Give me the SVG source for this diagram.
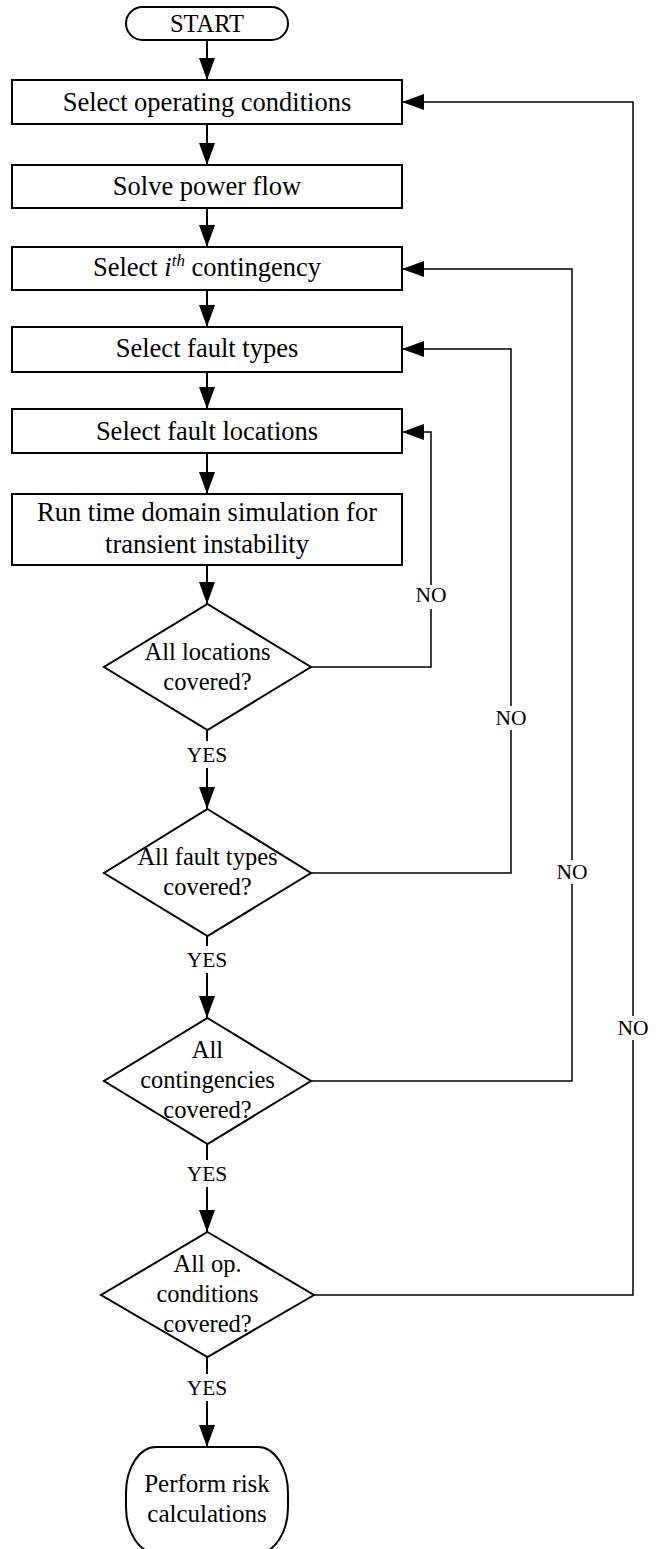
<svg xmlns="http://www.w3.org/2000/svg" width="662" height="1549" viewBox="0 0 662 1549">
<defs>
<marker id="ah" markerUnits="userSpaceOnUse" markerWidth="22" markerHeight="16" refX="22" refY="8" orient="auto">
<path d="M0,0 L22,8 L0,16 Z" fill="#000"/>
</marker>
<style>
.nd{fill:#fff;stroke:#000;stroke-width:2}
.t{font-family:"Liberation Serif","Times New Roman",serif;font-size:26.5px;fill:#000;text-anchor:middle}
.d{font-family:"Liberation Serif","Times New Roman",serif;font-size:24.5px;fill:#000;text-anchor:middle}
.l{font-family:"Liberation Serif","Times New Roman",serif;font-size:21.5px;fill:#000;text-anchor:middle}
.c{fill:none;stroke:#000;stroke-width:2}
.lp{fill:none;stroke:#000;stroke-width:1.5}
.bg{fill:#fff;stroke:none}
</style>
</defs>
<rect width="662" height="1549" fill="#fff"/>
<g id="connectors">
<line class="c" x1="207" y1="40" x2="207" y2="80" marker-end="url(#ah)"/>
<line class="c" x1="207" y1="124" x2="207" y2="165" marker-end="url(#ah)"/>
<line class="c" x1="207" y1="208" x2="207" y2="247" marker-end="url(#ah)"/>
<line class="c" x1="207" y1="290" x2="207" y2="327" marker-end="url(#ah)"/>
<line class="c" x1="207" y1="372" x2="207" y2="409" marker-end="url(#ah)"/>
<line class="c" x1="207" y1="453" x2="207" y2="494" marker-end="url(#ah)"/>
<line class="c" x1="207" y1="565" x2="207" y2="604" marker-end="url(#ah)"/>
<line class="c" x1="207" y1="730" x2="207" y2="809" marker-end="url(#ah)"/>
<line class="c" x1="207" y1="936" x2="207" y2="1018" marker-end="url(#ah)"/>
<line class="c" x1="207" y1="1144" x2="207" y2="1232" marker-end="url(#ah)"/>
<line class="c" x1="207" y1="1357" x2="207" y2="1447" marker-end="url(#ah)"/>
<polyline class="lp" points="311,667 431,667 431,432 402,432" marker-end="url(#ah)"/>
<polyline class="lp" points="311,873 511,873 511,349 402,349" marker-end="url(#ah)"/>
<polyline class="lp" points="311,1081 572,1081 572,269 402,269" marker-end="url(#ah)"/>
<polyline class="lp" points="314,1295 633,1295 633,102 402,102" marker-end="url(#ah)"/>
<rect class="bg" x="188" y="741" width="40" height="27"/>
<text class="l" x="207" y="762">YES</text>
<rect class="bg" x="188" y="946" width="40" height="27"/>
<text class="l" x="207" y="967">YES</text>
<rect class="bg" x="188" y="1160" width="40" height="27"/>
<text class="l" x="207" y="1181">YES</text>
<rect class="bg" x="188" y="1374" width="40" height="27"/>
<text class="l" x="207" y="1395">YES</text>
<rect class="bg" x="414" y="585" width="34" height="24"/>
<text class="l" x="431" y="602">NO</text>
<rect class="bg" x="494" y="706" width="34" height="24"/>
<text class="l" x="511" y="725">NO</text>
<rect class="bg" x="555" y="860" width="34" height="24"/>
<text class="l" x="572" y="879">NO</text>
<rect class="bg" x="616" y="1016" width="34" height="24"/>
<text class="l" x="633" y="1035">NO</text>
</g>
<g id="start">
<rect class="nd" x="126" y="7" width="162" height="33" rx="16.5"/>
<text class="t" x="207" y="32" style="font-size:24.5px">START</text>
</g>
<g id="select-op">
<rect class="nd" x="12" y="80" width="390" height="44"/>
<text class="t" x="207" y="111">Select operating conditions</text>
</g>
<g id="power-flow">
<rect class="nd" x="12" y="165" width="390" height="43"/>
<text class="t" x="207" y="195">Solve power flow</text>
</g>
<g id="select-contingency">
<rect class="nd" x="12" y="247" width="390" height="43"/>
<text class="t" x="207" y="276">Select <tspan font-style="italic">i</tspan><tspan font-style="italic" font-size="17px" dy="-10">th</tspan><tspan dy="10"> contingency</tspan></text>
</g>
<g id="fault-types">
<rect class="nd" x="12" y="327" width="390" height="45"/>
<text class="t" x="207" y="357">Select fault types</text>
</g>
<g id="fault-locations">
<rect class="nd" x="12" y="409" width="390" height="44"/>
<text class="t" x="207" y="440">Select fault locations</text>
</g>
<g id="simulation">
<rect class="nd" x="12" y="494" width="390" height="71"/>
<text class="t" x="207" y="521">Run time domain simulation for</text>
<text class="t" x="207" y="553">transient instability</text>
</g>
<g id="d-locations">
<polygon class="nd" points="207.5,604 311,667 207.5,730 104,667"/>
<text class="d" x="207.5" y="660">All locations</text>
<text class="d" x="207.5" y="690">covered?</text>
</g>
<g id="d-fault-types">
<polygon class="nd" points="207.5,809 311,873 207.5,936 104,873"/>
<text class="d" x="207.5" y="865">All fault types</text>
<text class="d" x="207.5" y="895">covered?</text>
</g>
<g id="d-contingencies">
<polygon class="nd" points="207.5,1018 311,1081 207.5,1144 104,1081"/>
<text class="d" x="207.5" y="1058">All</text>
<text class="d" x="207.5" y="1088">contingencies</text>
<text class="d" x="207.5" y="1118">covered?</text>
</g>
<g id="d-op-conditions">
<polygon class="nd" points="207.5,1232 314,1295 207.5,1357 101,1295"/>
<text class="d" x="207.5" y="1272">All op.</text>
<text class="d" x="207.5" y="1302">conditions</text>
<text class="d" x="207.5" y="1332">covered?</text>
</g>
<g id="risk">
<rect class="nd" x="126" y="1447" width="162" height="106" rx="30" ry="46"/>
<text class="t" x="207" y="1492" style="font-size:25px">Perform risk</text>
<text class="t" x="207" y="1522" style="font-size:25px">calculations</text>
</g>
</svg>
